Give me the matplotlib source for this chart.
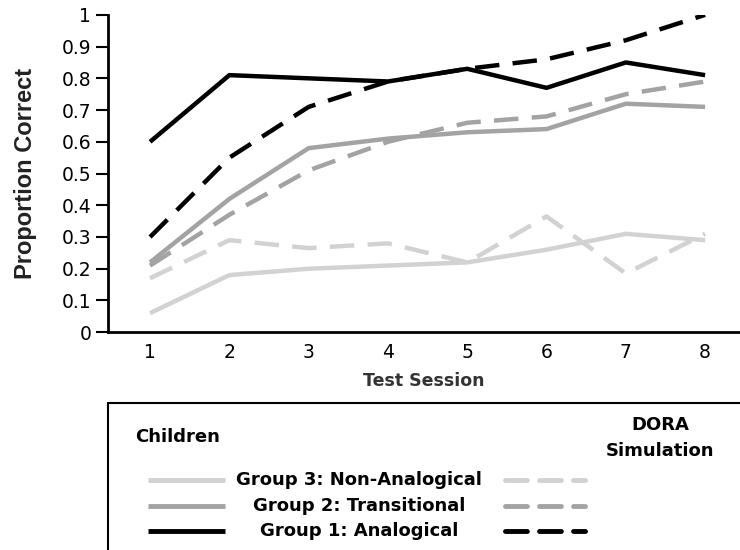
import matplotlib
matplotlib.use("Agg")
import matplotlib.pyplot as plt
from matplotlib.lines import Line2D
from matplotlib.patches import Rectangle

plt.rcParams["font.family"] = ["DejaVu Sans"]

sessions = [1, 2, 3, 4, 5, 6, 7, 8]
g1_children = [0.60, 0.81, 0.80, 0.79, 0.83, 0.77, 0.85, 0.81]
g1_dora = [0.30, 0.55, 0.71, 0.79, 0.83, 0.86, 0.92, 1.00]
g2_children = [0.22, 0.42, 0.58, 0.61, 0.63, 0.64, 0.72, 0.71]
g2_dora = [0.21, 0.37, 0.51, 0.60, 0.66, 0.68, 0.75, 0.79]
g3_children = [0.06, 0.18, 0.20, 0.21, 0.22, 0.26, 0.31, 0.29]
g3_dora = [0.17, 0.29, 0.265, 0.28, 0.22, 0.365, 0.185, 0.31]
group_labels = ["Group 3: Non-Analogical", "Group 2: Transitional", "Group 1: Analogical"]

LIGHT, MID, DARK = "#d2d2d2", "#a3a3a3", "#000000"
DASH = (0, (5.5, 3.0))

fig = plt.figure(figsize=(7.4, 5.5), dpi=100)
ax = fig.add_axes([0.146, 0.396, 0.854, 0.577])

ax.plot(sessions, g3_children, color=LIGHT, lw=3.2, solid_capstyle="butt")
ax.plot(sessions, g3_dora, color=LIGHT, lw=3.2, linestyle=DASH)
ax.plot(sessions, g2_children, color=MID, lw=3.2, solid_capstyle="butt")
ax.plot(sessions, g2_dora, color=MID, lw=3.2, linestyle=DASH)
ax.plot(sessions, g1_children, color=DARK, lw=3.2, solid_capstyle="butt")
ax.plot(sessions, g1_dora, color=DARK, lw=3.2, linestyle=DASH)

ax.set_xlim(0.47, 8.44)
ax.set_ylim(0, 1)
ax.set_xticks(sessions)
ax.set_yticks([0, 0.1, 0.2, 0.3, 0.4, 0.5, 0.6, 0.7, 0.8, 0.9, 1.0])
ax.set_yticklabels(["0", "0.1", "0.2", "0.3", "0.4", "0.5", "0.6", "0.7", "0.8", "0.9", "1"])
ax.tick_params(axis="y", length=9, width=1.5, labelsize=13.5, pad=3)
ax.tick_params(axis="x", length=0, labelsize=13.5, pad=8)
for s in ["top", "right"]:
    ax.spines[s].set_visible(False)
ax.spines["left"].set_linewidth(2)
ax.spines["bottom"].set_linewidth(2)
ax.set_ylabel("Proportion Correct", family="Liberation Sans", fontsize=17, fontweight="bold",
              color="#222222", labelpad=18)
ax.set_xlabel("Test Session", fontsize=12.5, fontweight="bold", color="#333333", labelpad=7)

# legend panel drawn by hand
W, H = 740.0, 550.0
fig.add_artist(Rectangle((108 / W, -0.1), 1.0, 1 - 403 / H + 0.1, transform=fig.transFigure,
                         fill=False, edgecolor="black", lw=1.5))
fig.text(135 / W, 1 - 437 / H, "Children", fontsize=13, fontweight="bold", va="center")
fig.text(660 / W, 1 - 425 / H, "DORA", fontsize=13, fontweight="bold", ha="center", va="center")
fig.text(660 / W, 1 - 451 / H, "Simulation", fontsize=13, fontweight="bold", ha="center", va="center")
rows = [480, 506, 531]
colors = [LIGHT, MID, DARK]
for yy, c, lab in zip(rows, colors, group_labels):
    yf = 1 - yy / H
    fig.add_artist(Line2D([148 / W, 225 / W], [yf, yf], color=c, lw=3.5, solid_capstyle="butt"))
    fig.add_artist(Line2D([505 / W, 585 / W], [yf, yf], color=c, lw=3.5, linestyle=(0, (4.5, 2.5)),
                          dash_capstyle="round"))
    fig.text(359 / W, yf, lab, fontsize=13, fontweight="bold", ha="center", va="center")

fig.savefig("out.png", dpi=100)
